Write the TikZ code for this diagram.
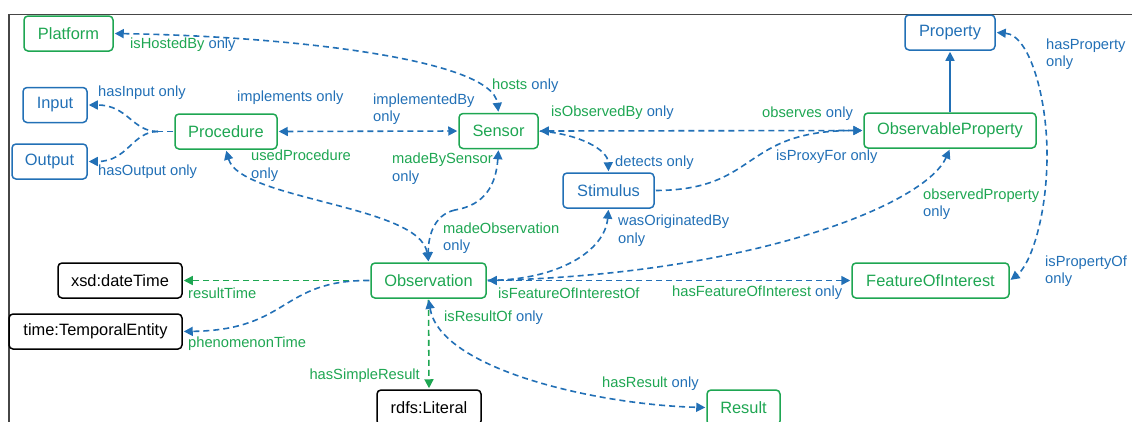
\documentclass[tikz,border=0pt]{standalone}
\usepackage{fontspec}
\setmainfont{Liberation Sans}
\usetikzlibrary{arrows.meta}
\definecolor{ogreen}{RGB}{30,166,82}
\definecolor{oblue}{RGB}{34,112,182}
\definecolor{framegray}{RGB}{70,70,70}
\newcommand\gtxt[1]{\textcolor{ogreen}{#1}}
\newcommand\btxt[1]{\textcolor{oblue}{#1}}

\tikzset{
  >={Triangle[length=9pt,width=9pt]},
  cls/.style={draw, rounded corners=4pt, line width=1.5pt, minimum height=35pt,
    inner sep=0pt, font=\fontsize{16.4}{19}\selectfont},
  gcls/.style={cls, draw=ogreen, text=ogreen},
  bcls/.style={cls, draw=oblue, text=oblue},
  kcls/.style={cls, draw=black, text=black},
  rel/.style={line width=1.6pt, dash pattern=on 6pt off 4pt, oblue, shorten >=1pt, shorten <=1pt},
  grel/.style={rel, ogreen},
  solidrel/.style={line width=1.6pt, oblue, shorten >=1pt},
  lbl/.style={inner sep=0pt, anchor=west, align=left,
    font=\fontsize{14.7}{17.6}\selectfont, text=oblue},
}

\begin{document}
\begin{tikzpicture}[x=1pt, y=-1pt]
\useasboundingbox (0,0) rectangle (1132,421);
\clip (0,0) rectangle (1132,421);

% frame
\draw[framegray, line width=1.2pt] (1140,14.5) -- (9,14.5) -- (9,430);

% classes
\node[gcls, minimum width=89pt]  (plat)    at (68.5,33.5)  {Platform};
\node[bcls, minimum width=64pt]  (input)   at (55,105)     {Input};
\node[bcls, minimum width=75pt]  (output)  at (49.5,161.5) {Output};
\node[gcls, minimum width=102pt] (proc)    at (226,131.5)  {Procedure};
\node[gcls, minimum width=79pt]  (sensor)  at (498.5,131)  {Sensor};
\node[bcls, minimum width=91pt]  (stim)    at (608.5,190.5){Stimulus};
\node[bcls, minimum width=90pt]  (prop)    at (950,32.5)   {Property};
\node[gcls, minimum width=172pt] (obsprop) at (950,130.5)  {ObservableProperty};
\node[gcls, minimum width=115pt] (obs)     at (428.5,280.5){Observation};
\node[gcls, minimum width=157pt] (foi)     at (930.5,280.5){FeatureOfInterest};
\node[kcls, minimum width=124pt] (xsd)     at (120,280.5)  {xsd:dateTime};
\node[kcls, minimum width=173pt] (temp)    at (95.5,331.5) {time:TemporalEntity};
\node[kcls, minimum width=104pt] (lit)     at (429,407.5)  {rdfs:Literal};
\node[gcls, minimum width=73pt]  (result)  at (743.5,407.5){Result};

% relations
\draw[rel, <->] (plat.east) .. controls (280,36) and (492,58) .. (sensor.north);

\coordinate (split) at (158,131.5);
\draw[rel, shorten >=0pt] (proc.west) -- (split);
\draw[rel, shorten <=0pt, ->] (split) .. controls (132,131.5) and (128,105) .. (input.east);
\draw[rel, shorten <=0pt, ->] (split) .. controls (132,131.5) and (128,161.5) .. (output.east);

\draw[rel, <->] (proc.east) -- (sensor.west);
\draw[rel, <->] (sensor.east) -- (obsprop.west);
\draw[rel, ->] (sensor.east) .. controls (580,134) and (608,150) .. (stim.north);
\draw[rel, ->] (stim.east) .. controls (760,190) and (740,130.5) .. (obsprop.west);

\draw[solidrel, ->] (obsprop.north) -- (prop.south);

\coordinate (propbend) at (1047,160);
\draw[rel, shorten >=0pt, <-] (prop.east) .. controls (1030,35) and (1048,100) .. (propbend);
\draw[rel, shorten <=0pt, ->] (propbend) .. controls (1046,220) and (1030,265) .. (foi.east);

\draw[rel, ->] (obs.east) .. controls (750,275) and (925,205) .. (obsprop.south);
\draw[rel, <->] (obs.east) -- (foi.west);
\draw[rel, ->] (obs.east) .. controls (560,280) and (605,250) .. (stim.south);

\coordinate (sbend) at (455,210);
\draw[rel, shorten >=0pt, <-] (sensor.south) .. controls (496,185) and (485,205) .. (sbend);
\draw[rel, shorten <=0pt, ->] (sbend) .. controls (432,215) and (428,240) .. (obs.north);

\draw[rel, <->] (proc.south) .. controls (240,200) and (420,205) .. (obs.north);

\draw[grel, ->] (obs.west) -- (xsd.east);
\draw[rel, ->] (obs.west) .. controls (280,280) and (290,330) .. (temp.east);
\draw[grel, ->] (obs.south) -- (lit.north);
\draw[rel, <->] (obs.south) .. controls (440,370) and (600,405) .. (result.west);

% relation labels
\node[lbl] (lHosted)  at (130,45)    {\gtxt{isHostedBy} only};
\node[lbl] (lHosts)   at (492,86)    {\gtxt{hosts} only};
\node[lbl] (lInput)   at (98,93)     {hasInput only};
\node[lbl] (lOutput)  at (98,172)    {hasOutput only};
\node[lbl] (lImpl)    at (237,98)    {implements only};
\node[lbl] (lImplBy)  at (373,109)   {implementedBy\\only};
\node[lbl] (lObsBy)   at (551,113)   {\gtxt{isObservedBy} only};
\node[lbl] (lObserves)at (762,114)   {\gtxt{observes} only};
\node[lbl] (lDetects) at (615,163)   {detects only};
\node[lbl] (lProxy)   at (776,157)   {isProxyFor only};
\node[lbl] (lHasProp) at (1046,54)   {hasProperty\\only};
\node[lbl] (lPropOf)  at (1045,271)  {isPropertyOf\\only};
\node[lbl] (lObsProp) at (923,204)   {\gtxt{observedProperty}\\only};
\node[lbl] (lUsedProc)at (251,165.5) {\gtxt{usedProcedure}\\only};
\node[lbl] (lMadeBy)  at (392,168.5) {\gtxt{madeBySensor}\\only};
\node[lbl] (lMadeObs) at (443,238)   {\gtxt{madeObservation}\\only};
\node[lbl] (lOrig)    at (618,230.5) {wasOriginatedBy\\only};
\node[lbl] (lFoiOf)   at (498,293)   {\gtxt{isFeatureOfInterestOf}};
\node[lbl] (lHasFoi)  at (672,293)   {\gtxt{hasFeatureOfInterest} only};
\node[lbl] (lResTime) at (188,293)   {\gtxt{resultTime}};
\node[lbl] (lPhenTime)at (188,344)   {\gtxt{phenomenonTime}};
\node[lbl, anchor=east] (lSimple) at (420,376) {\gtxt{hasSimpleResult}};
\node[lbl] (lResOf)   at (444,318)   {\gtxt{isResultOf} only};
\node[lbl] (lHasRes)  at (602,384)   {\gtxt{hasResult} only};
\end{tikzpicture}
\end{document}
